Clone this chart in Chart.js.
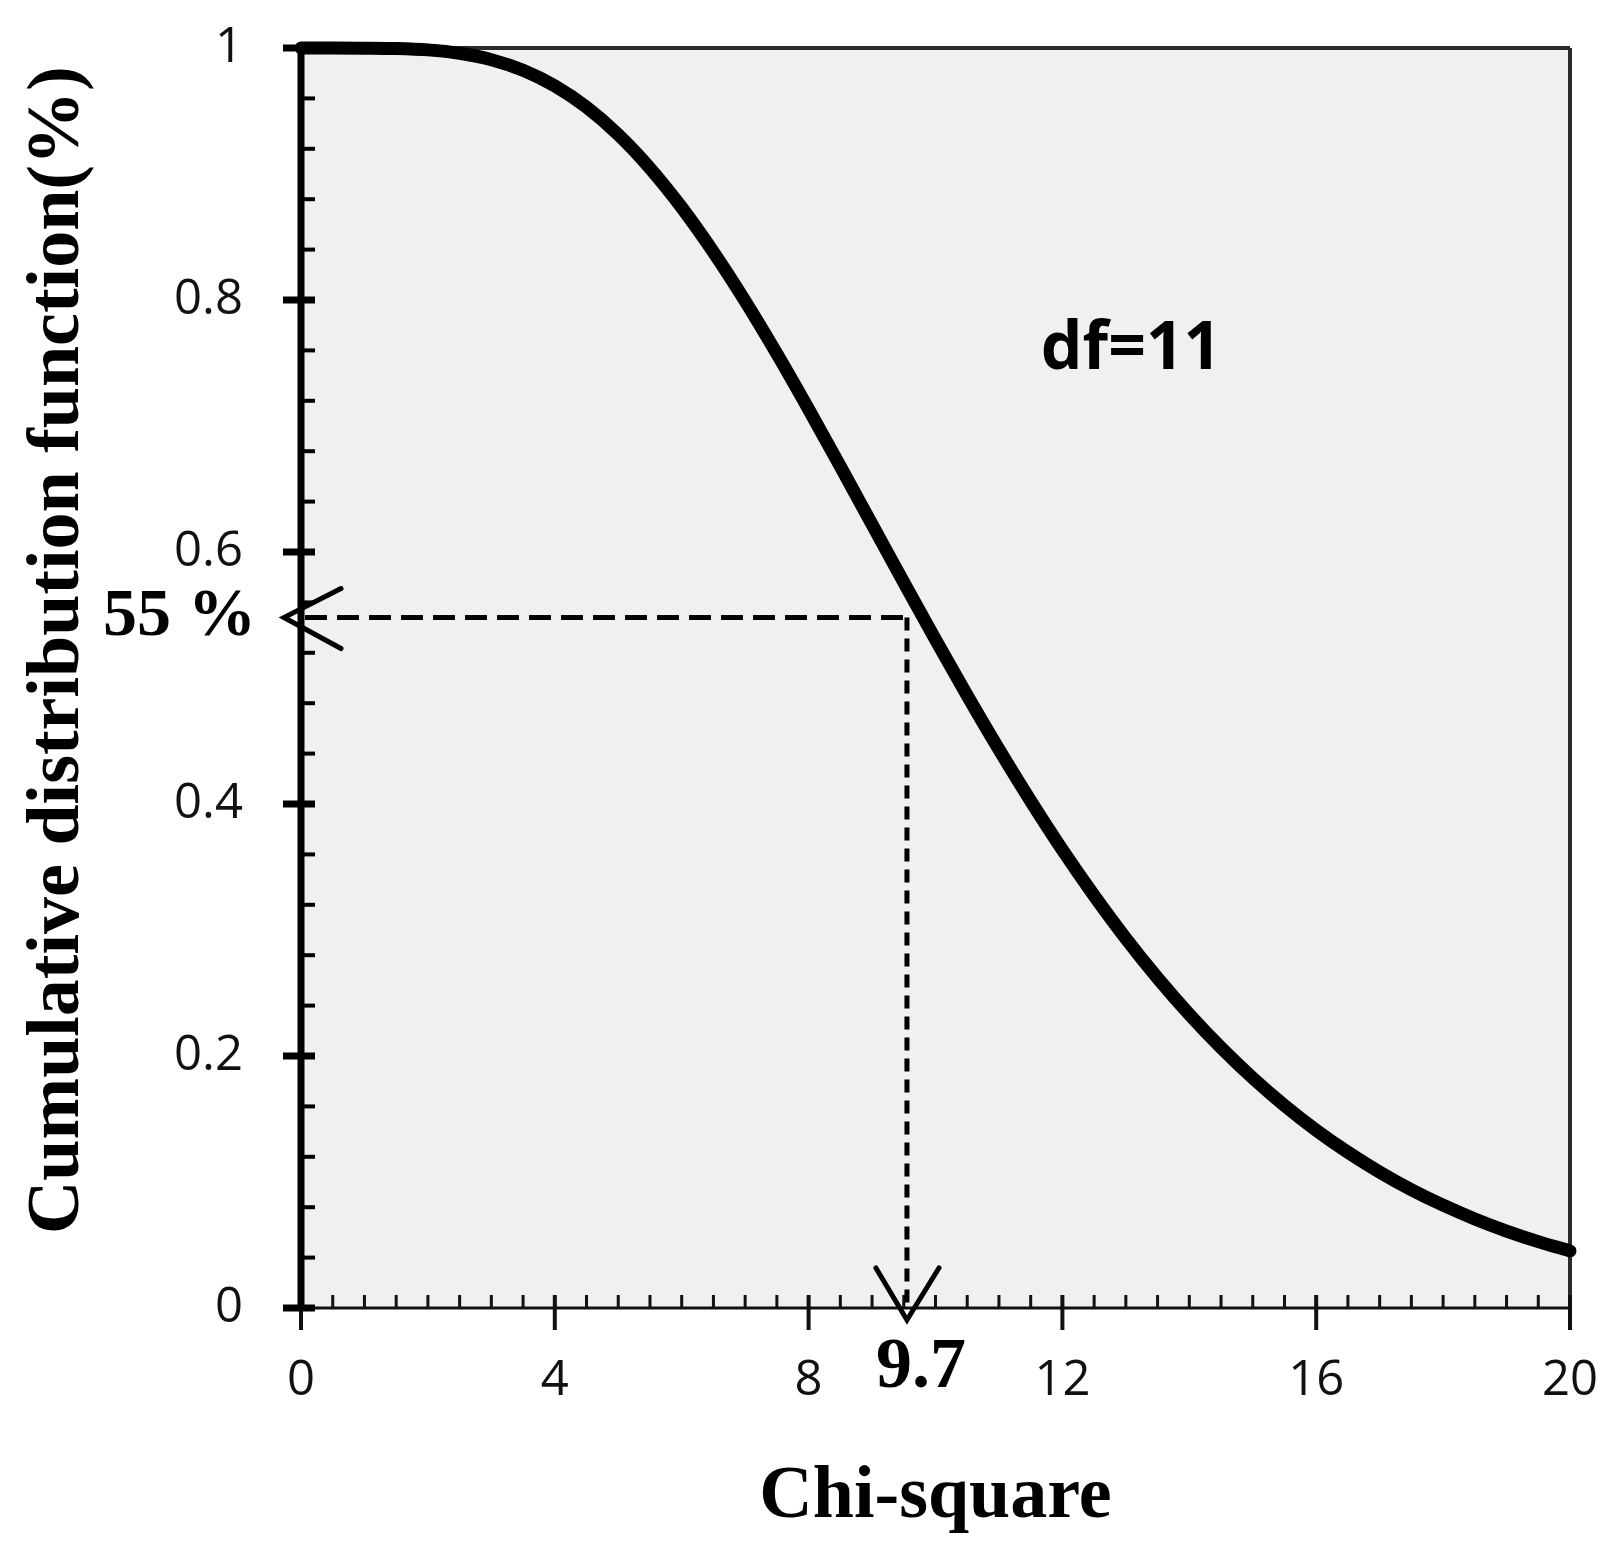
<!DOCTYPE html>
<html>
<head>
<meta charset="utf-8">
<script src="https://cdn.jsdelivr.net/npm/chart.js@4.4.1/dist/chart.umd.min.js"></script>
<style>
  html, body { margin: 0; padding: 0; background: #fff; }
  #wrap { width: 1616px; height: 1558px; }
</style>
</head>
<body>
<div id="wrap"><canvas id="chi"></canvas></div>
<script>
/* Chi-square (df=11) upper-tail curve */

const chiX = [0, 0.5, 1, 1.5, 2, 2.5, 3, 3.5, 4, 4.5, 5, 5.5, 6, 6.5, 7, 7.5, 8, 8.5, 9, 9.5,
              10, 10.5, 11, 11.5, 12, 12.5, 13, 13.5, 14, 14.5, 15, 15.5, 16, 16.5, 17, 17.5, 18, 18.5, 19, 19.5, 20];
const cdfY = [1.0000, 1.0000, 0.9999, 0.9996, 0.9985, 0.9958, 0.9907, 0.9823, 0.9699, 0.9530,
              0.9312, 0.9046, 0.8734, 0.8380, 0.7991, 0.7573, 0.7133, 0.6679, 0.6219, 0.5759,
              0.5304, 0.4861, 0.4433, 0.4024, 0.3636, 0.3273, 0.2933, 0.2619, 0.2330, 0.2066,
              0.1825, 0.1607, 0.1411, 0.1236, 0.1079, 0.0939, 0.0816, 0.0707, 0.0611, 0.0527, 0.0453];

const xTicks = [0, 4, 8, 12, 16, 20];
const yTicks = [0, 0.2, 0.4, 0.6, 0.8, 1];
const xMinorStep = 0.5;
const yMinorStep = 0.04;

// the marked reading: dashed guide lines and their labels
const markX = 9.55;
const markY = 0.548;
const markXLabel = '9.7';
const markYLabel = '55 %';
const dfLabel = 'df=11';
const dfPos = [11.66, 0.745];

const SERIF = '"Liberation Serif", "Times New Roman", serif';
const SANS  = '"Open Sans", "Noto Sans", sans-serif';

function line(ctx, x1, y1, x2, y2) {
    ctx.beginPath();
    ctx.moveTo(x1, y1);
    ctx.lineTo(x2, y2);
    ctx.stroke();
}

const frame = {
    id: 'frame',
    beforeDatasetsDraw(chart) {
        const { ctx, chartArea: a, scales: { x, y } } = chart;
        ctx.save();
        ctx.fillStyle = '#f0f0f0';
        ctx.fillRect(a.left, a.top, a.right - a.left, a.bottom - a.top);

        // top + right frame
        ctx.strokeStyle = '#2b2b2b';
        ctx.lineWidth = 4;
        line(ctx, a.left, a.top, a.right, a.top);
        line(ctx, a.right, a.top, a.right, a.bottom + 22);

        // x axis
        ctx.strokeStyle = '#111';
        ctx.lineWidth = 3;
        line(ctx, a.left, a.bottom, a.right, a.bottom);
        for (let v = xMinorStep; v < 20; v += xMinorStep) {
            const px = x.getPixelForValue(v);
            line(ctx, px, a.bottom, px, a.bottom - 13);
        }
        ctx.lineWidth = 4;
        xTicks.forEach(function (v) {
            const px = x.getPixelForValue(v);
            line(ctx, px, a.bottom - 13, px, a.bottom + 22);
        });

        // y axis
        ctx.strokeStyle = '#000';
        ctx.lineWidth = 4;
        for (let i = 1; i < 25; i++) {
            if (i % 5 === 0) continue;
            const py = y.getPixelForValue(i * yMinorStep);
            line(ctx, a.left, py, a.left + 14, py);
        }
        ctx.lineWidth = 7;
        yTicks.forEach(function (v) {
            const py = y.getPixelForValue(v);
            line(ctx, a.left - 18, py, a.left + 14, py);
        });
        line(ctx, a.left, a.top - 3, a.left, a.bottom + 3);
        ctx.restore();
    },
    afterDatasetsDraw(chart) {
        const { ctx, chartArea: a, scales: { x, y } } = chart;
        const mx = x.getPixelForValue(markX);
        const my = y.getPixelForValue(markY);
        ctx.save();
        ctx.strokeStyle = '#000';
        ctx.lineWidth = 5;

        // dashed guides
        ctx.setLineDash([22, 10]);
        line(ctx, a.left + 4, my, mx, my);
        ctx.setLineDash([13, 8]);
        line(ctx, mx, my, mx, a.bottom);
        ctx.setLineDash([]);

        // open arrow heads
        ctx.lineCap = 'round';
        ctx.beginPath();
        ctx.moveTo(a.left + 40, my - 29);
        ctx.lineTo(a.left - 17, my);
        ctx.lineTo(a.left + 40, my + 31);
        ctx.stroke();
        ctx.beginPath();
        ctx.moveTo(mx - 31, a.bottom - 40);
        ctx.lineTo(mx, a.bottom + 12);
        ctx.lineTo(mx + 32, a.bottom - 40);
        ctx.stroke();

        // labels
        ctx.fillStyle = '#000';
        ctx.font = 'bold 68px ' + SERIF;
        ctx.textAlign = 'right';
        ctx.textBaseline = 'alphabetic';
        ctx.fillText(markYLabel, a.left - 45, my + 17);

        ctx.font = 'bold 72px ' + SERIF;
        ctx.textAlign = 'center';
        ctx.fillText(markXLabel, mx + 14, a.bottom + 79);

        ctx.font = 'bold 66px ' + SANS;
        ctx.textAlign = 'left';
        ctx.fillText(dfLabel, x.getPixelForValue(dfPos[0]), y.getPixelForValue(dfPos[1]));
        ctx.restore();
    }
};

const points = chiX.map(function (v, i) { return { x: v, y: cdfY[i] }; });

new Chart(document.getElementById('chi'), {
    type: 'line',
    data: {
        datasets: [{
            data: points,
            borderColor: '#000',
            borderWidth: 13,
            borderCapStyle: 'round',
            borderJoinStyle: 'round',
            pointRadius: 0,
            cubicInterpolationMode: 'monotone',
            clip: false,
        }],
    },
    options: {
        responsive: true,
        maintainAspectRatio: false,
        animation: false,
        events: [],
        layout: { padding: { left: 0, right: 46, top: 48, bottom: 0 } },
        plugins: { legend: { display: false }, tooltip: { enabled: false } },
        scales: {
            x: {
                type: 'linear',
                min: 0,
                max: 20,
                afterBuildTicks: function (s) { s.ticks = xTicks.map(function (v) { return { value: v }; }); },
                afterFit: function (s) {
                    s.height = 250;
                    s.paddingLeft = 0;
                    s.paddingRight = 0;
                },
                grid: { display: false, drawTicks: false },
                border: { display: false },
                ticks: { font: { family: SANS, size: 49 }, color: '#111', padding: 44, maxRotation: 0 },
                title: {
                    display: true,
                    text: 'Chi-square',
                    color: '#000',
                    font: { family: SERIF, size: 74, weight: 'bold' },
                    padding: { top: 0, bottom: 16 },
                },
            },
            y: {
                type: 'linear',
                min: 0,
                max: 1,
                afterBuildTicks: function (s) { s.ticks = yTicks.map(function (v) { return { value: v }; }); },
                afterFit: function (s) {
                    s.width = 301;
                    s.paddingTop = 0;
                    s.paddingBottom = 0;
                },
                grid: { display: false, drawTicks: false },
                border: { display: false },
                ticks: {
                    font: { family: SANS, size: 49 },
                    color: '#111',
                    padding: 58,
                    callback: function (v) { return String(Math.round(v * 10) / 10); },
                },
                title: {
                    display: true,
                    text: '   Cumulative distribution function(%)',
                    color: '#000',
                    font: { family: SERIF, size: 74, weight: 'bold' },
                    padding: { top: 14, bottom: 0 },
                },
            },
        },
    },
    plugins: [frame],
});
</script>
</body>
</html>
